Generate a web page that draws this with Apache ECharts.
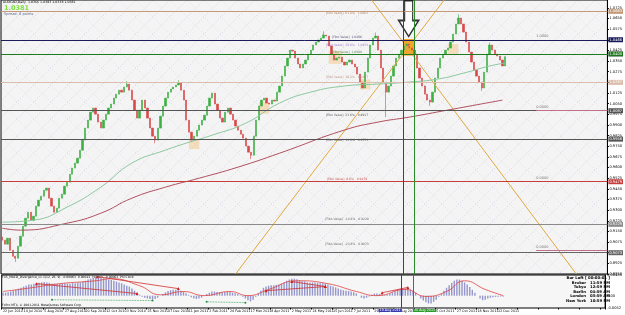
<!DOCTYPE html>
<html><head><meta charset="utf-8">
<script src="https://cdn.jsdelivr.net/npm/echarts@6/dist/echarts.min.js"></script>
<style>html,body{margin:0;padding:0;background:#fff}#c{width:625px;height:315px}</style>
</head><body><div id="c"></div>
<script>
// ---------- DATA ----------
const dateLabels = ['22 Jun 2010','14 Jul 2010','5 Aug 2010','27 Aug 2010','20 Sep 2010','12 Oct 2010','3 Nov 2010','25 Nov 2010','17 Dec 2010','11 Jan 2011','2 Feb 2011','24 Feb 2011','17 Mar 2011','8 Apr 2011','2 May 2011','24 May 2011','15 Jun 2011','7 Jul 2011','29 Jul 2011','22 Aug 2011','13 Sep 2011','5 Oct 2011','27 Oct 2011','18 Nov 2011','12 Dec 2011'];
const closes = [
0.9088,0.9060,0.9102,0.9017,0.8975,0.8961,0.9046,0.9116,0.9187,0.9243,
0.9285,0.9229,0.9257,0.9328,0.9370,0.9398,0.9440,0.9455,0.9384,0.9328,
0.9285,0.9314,0.9384,0.9412,0.9469,0.9497,0.9553,0.9596,0.9631,0.9666,
0.9722,0.9793,0.9878,0.9934,0.9990,1.0019,0.9976,0.9920,0.9878,0.9934,
0.9976,1.0019,1.0047,1.0089,1.0117,1.0145,1.0131,1.0167,1.0188,1.0145,
1.0075,1.0004,0.9948,1.0004,1.0075,1.0019,0.9948,0.9878,0.9821,0.9793,
0.9878,0.9962,1.0033,1.0089,1.0131,1.0153,1.0167,1.0181,1.0195,1.0145,
1.0075,0.9934,0.9849,0.9793,0.9821,0.9863,0.9899,0.9934,0.9969,1.0033,
1.0089,1.0124,1.0047,1.0004,0.9948,0.9920,0.9990,1.0019,0.9976,0.9934,
0.9892,0.9863,0.9835,0.9807,0.9751,0.9708,0.9687,0.9821,0.9934,1.0033,
1.0075,1.0089,1.0054,1.0047,1.0075,1.0068,1.0131,1.0174,1.0244,1.0315,
1.0371,1.0427,1.0420,1.0371,1.0329,1.0301,1.0329,1.0357,1.0399,1.0427,
1.0463,1.0484,1.0498,1.0512,1.0533,1.0526,1.0456,1.0399,1.0357,1.0371,
1.0378,1.0343,1.0322,1.0343,1.0357,1.0329,1.0308,1.0258,1.0202,1.0160,
1.0272,1.0371,1.0463,1.0512,1.0526,1.0427,1.0301,1.0202,1.0131,1.0174,
1.0244,1.0315,1.0371,1.0399,1.0427,1.0456,1.0470,1.0442,1.0427,1.0399,
1.0301,1.0230,1.0174,1.0117,1.0075,1.0061,1.0131,1.0230,1.0301,1.0371,
1.0399,1.0427,1.0442,1.0484,1.0540,1.0611,1.0653,1.0611,1.0554,1.0484,
1.0413,1.0343,1.0286,1.0244,1.0202,1.0160,1.0272,1.0399,1.0463,1.0427,
1.0399,1.0385,1.0357,1.0315,1.0381];
const firstOpen = 0.9110;
const wickLows = {5:0.8935, 59:0.9770, 96:0.9660, 148:0.9955, 165:1.0035, 185:1.0140};
const wickHighs = {48:1.0210, 68:1.0215, 124:1.0560, 144:1.0550, 176:1.0680, 188:1.0480};
const maGreen = [[0,0.9215],[12,0.9229],[25,0.9321],[38,0.9462],[50,0.9631],[63,0.9723],[71,0.9772],[81,0.9828],[94,0.9913],[107,1.0054],[119,1.0131],[132,1.0174],[145,1.0188],[157,1.0202],[168,1.0223],[178,1.0265],[188,1.0315],[194,1.0336]];
const maMaroon = [[0,0.9173],[7,0.9159],[25,0.9208],[38,0.9278],[50,0.9384],[63,0.9462],[76,0.9525],[91,0.9603],[107,0.9701],[132,0.9864],[145,0.9920],[157,0.9955],[172,1.0005],[193,1.0075]];
const macdHist = [
0.0007,0.0007,0.0008,0.0010,0.0012,0.0014,0.0017,0.0019,0.0022,0.0024,
0.0027,0.0027,0.0029,0.0031,0.0031,0.0032,0.0033,0.0032,0.0031,0.0029,
0.0029,0.0028,0.0029,0.0029,0.0030,0.0029,0.0029,0.0030,0.0030,0.0031,
0.0032,0.0034,0.0036,0.0039,0.0041,0.0043,0.0045,0.0045,0.0044,0.0042,
0.0041,0.0039,0.0038,0.0036,0.0034,0.0032,0.0030,0.0027,0.0024,0.0022,
0.0017,0.0012,0.0007,0.0002,-0.0003,-0.0005,-0.0007,-0.0008,-0.0009,-0.0008,
-0.0005,0.0000,0.0004,0.0008,0.0011,0.0013,0.0014,0.0014,0.0013,0.0012,
0.0010,0.0006,0.0002,-0.0004,-0.0007,-0.0008,-0.0007,-0.0005,-0.0001,0.0004,
0.0007,0.0010,0.0010,0.0009,0.0008,0.0008,0.0009,0.0009,0.0009,0.0007,
0.0006,0.0004,0.0001,-0.0003,-0.0007,-0.0011,-0.0014,-0.0010,-0.0003,0.0005,
0.0012,0.0019,0.0022,0.0024,0.0025,0.0025,0.0026,0.0027,0.0029,0.0032,
0.0036,0.0039,0.0041,0.0041,0.0040,0.0037,0.0035,0.0034,0.0032,0.0031,
0.0032,0.0032,0.0031,0.0030,0.0030,0.0029,0.0027,0.0024,0.0022,0.0020,
0.0017,0.0015,0.0013,0.0012,0.0011,0.0010,0.0008,0.0005,0.0000,-0.0005,
-0.0007,-0.0005,-0.0002,0.0002,0.0005,0.0005,0.0004,0.0003,0.0002,0.0003,
0.0005,0.0008,0.0011,0.0014,0.0016,0.0017,0.0017,0.0016,0.0015,0.0012,
0.0007,0.0000,-0.0007,-0.0012,-0.0016,-0.0019,-0.0019,-0.0015,-0.0010,-0.0003,
0.0004,0.0012,0.0019,0.0025,0.0031,0.0036,0.0039,0.0039,0.0036,0.0032,
0.0027,0.0021,0.0014,0.0007,0.0000,-0.0007,-0.0011,-0.0010,-0.0007,-0.0005,
-0.0004,-0.0003,-0.0003,-0.0002,-0.0002];
const macdSignal = [[0,0.0010],[11,0.0019],[22,0.0029],[36,0.0036],[42,0.0041],[53,0.0024],[61,0.0002],[70,0.0010],[78,0.0000],[88,0.0010],[95,0.0000],[103,0.0015],[114,0.0036],[126,0.0029],[137,0.0010],[145,0.0000],[156,0.0015],[164,-0.0002],[172,0.0010],[179,0.0036],[187,0.0015],[194,0.0000]];
const divRed = [[[13,0.0029],[52,0.0005]],[[36.6,0.0046],[68,0.0017]],[[102,0.0012],[125,0.0022]],[[112,0.0034],[125,0.0022]],[[147,0.0007],[157,0.0020]]];
const divGreen = [[[19,-0.0010],[58,-0.0012]],[[79,-0.0015],[94,-0.0017]]];
const fiboPrices = [1.0674,1.0505,1.0449,1.0399,1.0223,0.9955,0.9779,0.9504,0.9222,0.9046];
const fiboTexts = ['[Fibo Value]  61.8%   1.0663','[Fibo Value]  1.0466','[Fibo Value]  78.6%   1.0433','[Fibo Value]  1.0400','[Fibo Value]  38.2%   1.0267','[Fibo Value]  23.6%   0.9917','[Fibo Value]  14.6%   0.9751','[Fibo Value]  0.0%   0.9479','[Fibo Value]  -14.6%   0.9229','[Fibo Value]  -23.6%   0.9073'];
const fiboAxisTexts = ['1.0663','1.0466','1.0433','1.0400','1.0267','1.0087','0.9956','0.9479','0.9229','0.9073'];
const currentPrice = 1.0381;
const vLines = [154.6, 159.0];
const vLineTexts = ['19 Aug 2011','30 Aug 2011'];
const crossLines = [[[142.5,1.0780],[221.5,0.8850]],[[90,0.8850],[170.5,1.0780]]];
const arrowAt = [156.8, 1.0650];
const boxRange = [[154.6,1.0505],[159.0,1.0388]];
const paleBoxes = [[[72,0.9800],[76,0.9730]],[[99,1.0060],[103,0.9980]],[[126,1.0420],[131,1.0330]],[[138,1.0220],[142,1.0150]],[[172,1.0470],[176,1.0400]]];
const sideTexts = [[206,1.0505,'1.0000'],[206,1.0003,'0.0000'],[206,0.9504,'0.0000'],[206,0.9020,'0.0000']];
const sideLines = [1.0003, 0.9020];
const infoLines = ['Bar Left [ 00:00:01 ]','Broker   11:59 PM','Tokyo   12:59 PM','Berlin   04:59 AM','London   03:59 AM','New York   10:59 PM'];

// ---------- BUILD ----------
const N = 234;
const cats = Array.from({length:N},(_,i)=>i);
const candles = closes.map((c,i)=>{
  const o = i===0 ? firstOpen : closes[i-1];
  let lo = Math.min(o,c), hi = Math.max(o,c);
  if (wickLows[i]!==undefined) lo = wickLows[i];
  if (wickHighs[i]!==undefined) hi = wickHighs[i];
  return [o,c,lo,hi];
});
const fiboColors = ['#c49a7a','#1c1c5c','#c58be0','#1f7a1f','#dcbcaa','#555555','#555555','#c83c3c','#8a8a8a','#666666'];
const fiboTextColors = ['#a07050','#303060','#9060c0','#307030','#b08070','#333333','#333333','#c03030','#444444','#444444'];

const T = 17;
const tile = document.createElement('canvas'); tile.width=T; tile.height=T;
const g = tile.getContext('2d');
g.fillStyle='#f4f4f4'; g.fillRect(0,0,T,T);
g.lineWidth=0.6; g.setLineDash([1.2,1.8]);
g.strokeStyle='#c2cadc'; g.beginPath(); g.moveTo(-1,T+1); g.lineTo(T+1,-1); g.stroke();
g.strokeStyle='#e0d4e0'; g.beginPath(); g.moveTo(-1,-1); g.lineTo(T+1,T+1); g.stroke();

const chart = echarts.init(document.getElementById('c'), null, {renderer:'canvas'});
const FF = 'DejaVu Sans';
const small = {fontFamily:FF, fontSize:3.6};
const option = {
  animation:false,
  backgroundColor:'#ffffff',
  grid:[
    {left:1, right:13, top:0, height:274, show:true, backgroundColor:{image:tile, repeat:'repeat'}, borderColor:'#000', borderWidth:1},
    {left:1, right:13, top:275, height:33, show:true, backgroundColor:'#f6f6f6', borderColor:'#000', borderWidth:1}
  ],
  xAxis:[
    {type:'category', gridIndex:0, data:cats, show:false, boundaryGap:true, axisLine:{onZero:false}},
    {type:'value', gridIndex:0, min:-0.5, max:N-0.5, show:false, axisLine:{onZero:false}},
    {type:'category', gridIndex:1, data:cats, boundaryGap:true, position:'bottom',
      axisLine:{show:false, onZero:false}, axisTick:{show:true, interval:7, length:1.5, lineStyle:{color:'#000'}},
      axisLabel:{...small, fontSize:3.3, color:'#000', interval:7, align:'left', margin:2, hideOverlap:false,
        formatter:(v,idx)=> dateLabels[idx/8] || ''}},
    {type:'value', gridIndex:1, min:-0.5, max:N-0.5, show:false, axisLine:{onZero:false}}
  ],
  yAxis:[
    {type:'value', gridIndex:0, position:'right', min:0.8850, max:1.0780, interval:0.0075,
      splitLine:{show:false}, axisLine:{show:true, onZero:false, lineStyle:{color:'#000'}},
      axisTick:{show:true, length:1.5, lineStyle:{color:'#000'}},
      axisLabel:{...small, color:'#000', margin:2, formatter:v=>v.toFixed(4), showMaxLabel:false}},
    {type:'value', gridIndex:1, position:'right', min:-0.0030, max:0.0050, interval:0.0010,
      splitLine:{show:false}, axisLine:{show:true, onZero:false, lineStyle:{color:'#000'}},
      axisTick:{show:false},
      axisLabel:{...small, color:'#000', margin:2, showMaxLabel:true, showMinLabel:true,
        formatter:v=> Math.abs(v)<1e-9 ? '0.00' : (Math.abs(v-0.005)<1e-9 ? '0.00455' : (Math.abs(v+0.003)<1e-9 ? '-0.0052' : ''))}}
  ],
  series:[
    {type:'line', xAxisIndex:1, yAxisIndex:0, data:[], silent:true,
      markArea:{silent:true, itemStyle:{color:'#f3c27a', opacity:0.45}, data: paleBoxes.map(b=>[{coord:b[0]},{coord:b[1]}])}},
    {type:'line', xAxisIndex:1, yAxisIndex:0, data:[], silent:true,
      markLine:{symbol:'none', silent:true, animation:false,
        data: fiboPrices.map((p,k)=>({yAxis:p, lineStyle:{color:fiboColors[k], width:1, type:'solid'},
          label:{show:true, position:'end', formatter:fiboAxisTexts[k], ...small, color:'#fff', backgroundColor:fiboColors[k], padding:[1,1,0,1], distance:1}}))
          .concat([{yAxis:currentPrice, lineStyle:{opacity:0}, label:{show:true, position:'end', formatter:currentPrice.toFixed(4), ...small, color:'#fff', backgroundColor:'#000', padding:[1,1,0,1], distance:1}}])
      }},
    {type:'line', xAxisIndex:1, yAxisIndex:0, data:[], silent:true,
      markLine:{symbol:'none', silent:true, data: sideLines.map(p=>[{coord:[206,p]},{coord:[N-0.5,p]}]),
        lineStyle:{color:'#c07088', width:1, type:'solid'}, label:{show:false}}},
    {type:'line', xAxisIndex:1, yAxisIndex:0, data:[], silent:true,
      markLine:{symbol:'none', silent:true, label:{show:false},
        data: vLines.map((x,k)=>({xAxis:x, lineStyle:{color:k===0?'#3a3a8a':'#2a8a2a', width:1, type:'solid'}}))}},
    {type:'line', xAxisIndex:3, yAxisIndex:1, data:[], silent:true,
      markLine:{symbol:'none', silent:true,
        data: vLines.map((x,k)=>({xAxis:x, lineStyle:{color:k===0?'#3a3a8a':'#2a8a2a', width:1, type:'solid'},
          label:{show:true, position:'start', distance:1, formatter:vLineTexts[k], ...small, fontSize:3.3, color:'#fff',
            backgroundColor:k===0?'#3a3ab0':'#2a9a2a', padding:[0,1,0,1], align:k===0?'right':'left'}}))}},
    {type:'line', xAxisIndex:1, yAxisIndex:0, data:[], silent:true,
      markArea:{silent:true, itemStyle:{color:'#f0a020', opacity:0.95}, data:[[{coord:boxRange[0]},{coord:boxRange[1]}]]}},
    ...crossLines.map(seg=>({type:'line', xAxisIndex:1, yAxisIndex:0, data:seg, symbol:'none', silent:true,
      lineStyle:{color:'#e0a840', width:1}, clip:true})),
    {type:'line', xAxisIndex:1, yAxisIndex:0, data:maGreen, smooth:true, symbol:'none', lineStyle:{color:'#8cc8a0', width:1}},
    {type:'line', xAxisIndex:1, yAxisIndex:0, data:maMaroon, smooth:true, symbol:'none', lineStyle:{color:'#b05060', width:1}},
    {type:'candlestick', xAxisIndex:0, yAxisIndex:0, data:candles, barWidth:1.8,
      itemStyle:{color:'#3cb043', color0:'#d84848', borderColor:'#3cb043', borderColor0:'#d84848', borderWidth:0.6}},
    {type:'scatter', xAxisIndex:1, yAxisIndex:0, symbolSize:0, silent:true,
      data: fiboPrices.map((p,k)=>({value:[133,p], label:{show:true, position:'top', distance:0, formatter:fiboTexts[k], fontFamily:FF, fontSize:3, color:fiboTextColors[k]}}))},
    {type:'scatter', xAxisIndex:1, yAxisIndex:0, symbolSize:0, silent:true,
      data: sideTexts.map(t=>({value:[t[0],t[1]], label:{show:true, position:'top', distance:1, align:'left', formatter:t[2], fontFamily:FF, fontSize:3.5, color:'#555'}}))},
    {type:'scatter', xAxisIndex:1, yAxisIndex:0, silent:true,
      data:[arrowAt], symbol:'path://M6,0 L14,0 L14,20 L20,20 L10,36 L0,20 L6,20 Z', symbolSize:[20,36],
      itemStyle:{color:'#fff', borderColor:'#000', borderWidth:1.5}},
    {type:'bar', xAxisIndex:2, yAxisIndex:1, data:macdHist, barWidth:1.4, itemStyle:{color:'#9496cc'}},
    {type:'line', xAxisIndex:3, yAxisIndex:1, data:macdSignal, smooth:true, symbol:'none', lineStyle:{color:'#e04040', width:0.8}},
    ...divRed.map(seg=>({type:'line', xAxisIndex:3, yAxisIndex:1, data:seg, symbol:'triangle', symbolSize:3, itemStyle:{color:'#d02020'}, lineStyle:{color:'#d03030', width:0.8}})),
    ...divGreen.map(seg=>({type:'line', xAxisIndex:3, yAxisIndex:1, data:seg, symbol:'circle', symbolSize:2, itemStyle:{color:'#209040'}, lineStyle:{color:'#30a050', width:0.8, type:'dotted'}}))
  ],
  graphic:[
    {type:'text', left:3, top:1, style:{text:'AUDCAD,Daily  1.0366 1.0383 1.0338 1.0381', font:'3.2px DejaVu Sans', fill:'#000'}},
    {type:'text', left:4, top:5, style:{text:'1.0381', font:'bold 6.5px DejaVu Sans', fill:'#7ce03c'}},
    {type:'text', left:4, top:12, style:{text:'Spread: 6 points', font:'3.6px DejaVu Sans', fill:'#607090'}},
    {type:'text', left:2, top:276, style:{text:'FX5_MACD_Divergence_v1.1(12, 26, 9)  -0.00063  0.00023  Hidden  -0.00063  Phi Clock', font:'3px DejaVu Sans', fill:'#000'}},
    {type:'text', left:2, top:304, style:{text:'FxPro MT4, © 2001-2011 MetaQuotes Software Corp.', font:'3px DejaVu Sans', fill:'#000'}},
    ...infoLines.map((t,k)=>({type:'text', right:15, top:276+k*4.6, style:{text:t, font:'bold 3.8px DejaVu Sans', fill:'#000', align:'right'}}))
  ]
};
chart.setOption(option);
</script></body></html>
